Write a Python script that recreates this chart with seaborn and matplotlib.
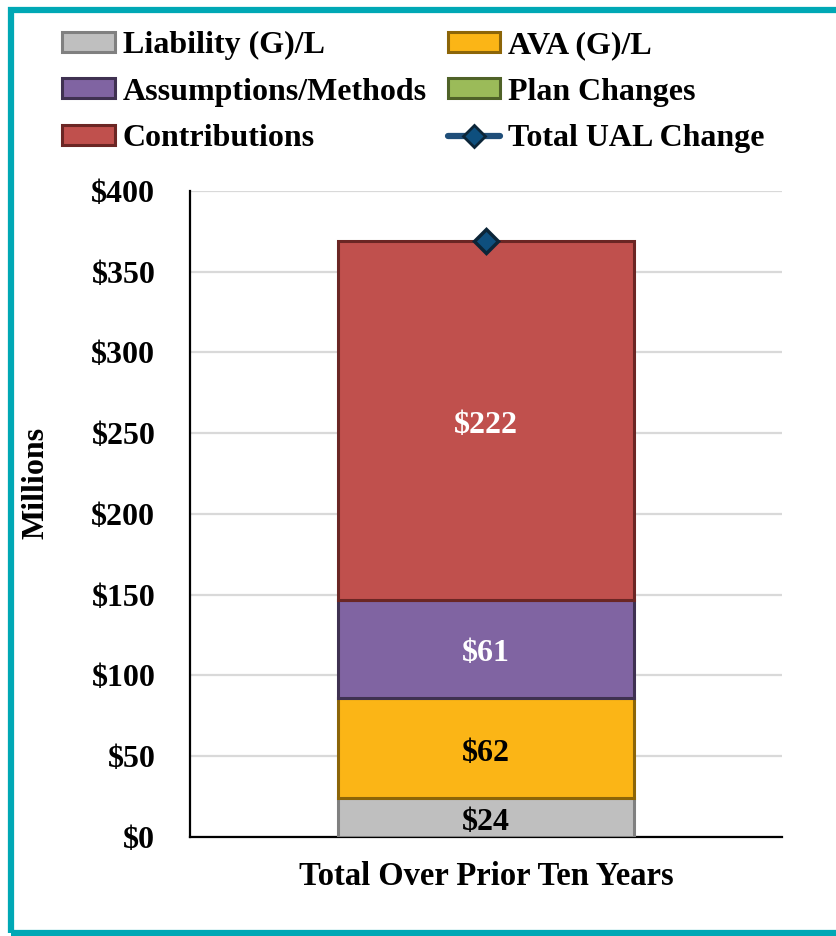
import matplotlib
matplotlib.use("Agg")
import matplotlib.pyplot as plt
from matplotlib.patches import Patch, Rectangle
from matplotlib.lines import Line2D
import seaborn as sns

# data (millions)
category = ["Total Over Prior Ten Years"]
segments = ["Liability (G)/L", "AVA (G)/L", "Assumptions/Methods", "Plan Changes", "Contributions"]
values = [24, 62, 61, 0, 222]
total_ual = [369]
yticks = [0, 50, 100, 150, 200, 250, 300, 350, 400]

fills = ["#BFBFBF", "#FBB516", "#8064A2", "#9BBB59", "#C0504D"]
edges = ["#808080", "#8C6508", "#3F3151", "#4F6228", "#6B2624"]
label_colors = ["black", "black", "white", "white", "white"]

sns.set_theme(style="white")
plt.rcParams["font.family"] = ["Liberation Serif", "DejaVu Serif"]
plt.rcParams["font.weight"] = "bold"
plt.rcParams["text.color"] = "black"
plt.rcParams["axes.labelcolor"] = "black"
plt.rcParams["xtick.color"] = "black"
plt.rcParams["ytick.color"] = "black"

FS = 23

fig = plt.figure(figsize=(8.36, 9.36), dpi=100)
ax = fig.add_axes([0.2273, 0.1058, 0.7081, 0.6902])

bottom = 0
for name, val, fc, ec, tc in zip(segments, values, fills, edges, label_colors):
    if val > 0:
        sns.barplot(x=category, y=[val], bottom=bottom, color=fc, edgecolor=ec,
                    linewidth=2.2, width=0.5, saturation=1, ax=ax, zorder=3)
        ax.annotate(f"${val}", (0, bottom + val / 2), xytext=(0, -3.5),
                    textcoords="offset points", ha="center", va="center",
                    fontsize=FS, fontweight="bold", color=tc, zorder=5)
    bottom += val

ax.plot([0], total_ual, color="#1F4E79", lw=3.5, marker="D", markersize=12,
        markerfacecolor="#0E4F7E", markeredgecolor="#0B2538", markeredgewidth=2.5,
        zorder=6, clip_on=False)

ax.set_xlim(-0.5, 0.5)
ax.set_ylim(0, 400)
ax.set_yticks(yticks)
ax.set_yticklabels([f"${v}" for v in yticks])
ax.yaxis.grid(True, color="#D9D9D9", lw=1.6, zorder=0)
ax.set_axisbelow(True)
for s in ["top", "right"]:
    ax.spines[s].set_visible(False)
for s in ["left", "bottom"]:
    ax.spines[s].set_color("black")
    ax.spines[s].set_linewidth(1.6)
ax.tick_params(axis="y", length=6, width=1.6, color="black", pad=19,
               labelsize=FS, labelcolor="black")
ax.tick_params(axis="x", length=0, pad=17, labelsize=FS + 0.5, labelcolor="black")
for t in ax.get_xticklabels() + ax.get_yticklabels():
    t.set_fontweight("bold")
ax.set_xlabel("")
ax.set_ylabel("Millions", fontsize=FS, fontweight="bold", color="black")
ax.yaxis.set_label_coords(-0.236, 0.548)

handles = [
    Patch(facecolor=fills[0], edgecolor=edges[0], lw=2.2, label=segments[0]),
    Patch(facecolor=fills[2], edgecolor=edges[2], lw=2.2, label=segments[2]),
    Patch(facecolor=fills[4], edgecolor=edges[4], lw=2.2, label=segments[4]),
    Patch(facecolor=fills[1], edgecolor=edges[1], lw=2.2, label=segments[1]),
    Patch(facecolor=fills[3], edgecolor=edges[3], lw=2.2, label=segments[3]),
    Line2D([0], [0], color="#1F4E79", lw=4.5, marker="D", markersize=11,
           markerfacecolor="#0E4F7E", markeredgecolor="#0B2538", markeredgewidth=2,
           label="Total UAL Change"),
]
fig.legend(handles=handles, ncol=2, loc="upper left",
           bbox_to_anchor=(62 / 836, 1 - 31 / 936), frameon=False,
           handlelength=1.65, handleheight=0.58, handletextpad=0.25,
           columnspacing=0.65, labelspacing=0.55, borderpad=0, borderaxespad=0,
           prop={"weight": "bold", "size": FS}, labelcolor="black")

fig.patches.append(Rectangle((11 / 836, 3.5 / 936), 1.05, 1 - 13 / 936,
                             transform=fig.transFigure, fill=False,
                             edgecolor="#00A8B5", lw=4.5, clip_on=False))

fig.savefig("out.png", dpi=100)
